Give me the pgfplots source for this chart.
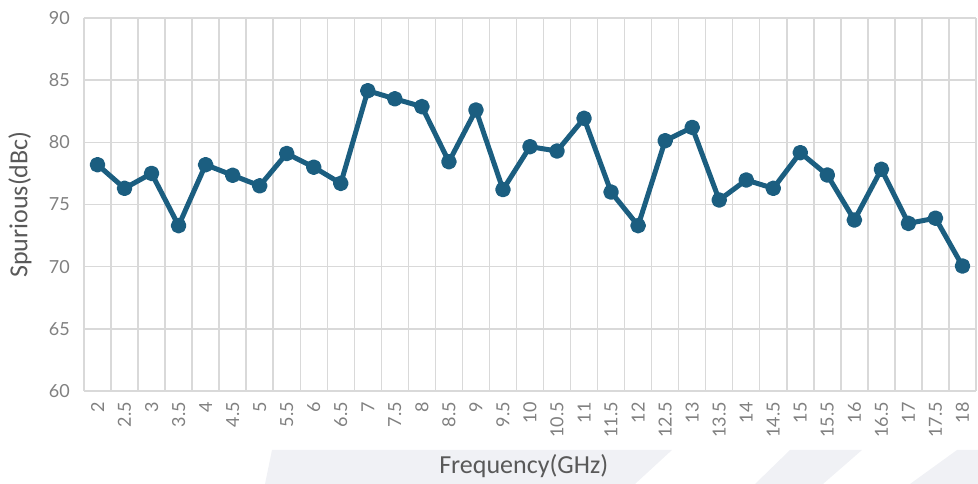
\documentclass[border=0pt]{standalone}
\usepackage{fontspec}
\setmainfont{Carlito}
\newfontfamily\tickfont{Lato}
\usepackage{pgfplots}
\pgfplotsset{compat=1.18}
\usepackage{pgfplotstable}
\definecolor{linec}{HTML}{1B5E80}
\definecolor{gridc}{HTML}{D9D9D9}
\definecolor{tickc}{HTML}{808080}
\definecolor{labc}{HTML}{595959}
\definecolor{decoc}{HTML}{F0F1F5}
\pgfplotstableread{
x y
0 78.2
1 76.3
2 77.5
3 73.3
4 78.2
5 77.35
6 76.5
7 79.1
8 78.0
9 76.7
10 84.15
11 83.5
12 82.87
13 78.44
14 82.6
15 76.2
16 79.65
17 79.3
18 81.93
19 76.0
20 73.3
21 80.13
22 81.2
23 75.36
24 76.97
25 76.3
26 79.17
27 77.37
28 73.75
29 77.83
30 73.48
31 73.9
32 70.05
}\datatable
\begin{document}
\begin{tikzpicture}
\useasboundingbox (-63pt,-69.75pt) rectangle (670.5pt,293.25pt);
\fill[decoc] (141pt,-44.25pt) -- (441pt,-44.25pt) -- (413.25pt,-69.75pt) -- (135.75pt,-69.75pt) -- cycle;
\fill[decoc] (529.5pt,-44.25pt) -- (583.5pt,-44.25pt) -- (554.25pt,-69.75pt) -- (503.25pt,-69.75pt) -- cycle;
\fill[decoc] (654.75pt,-44.25pt) -- (670.5pt,-44.25pt) -- (670.5pt,-69.75pt) -- (619.5pt,-69.75pt) -- cycle;
\begin{axis}[
  at={(0pt,0pt)}, anchor=south west,
  scale only axis, width=669pt, height=279.75pt,
  xmin=-0.5, xmax=32.5, ymin=60, ymax=90,
  xtick={0,...,32},
  xticklabels={2,2.5,3,3.5,4,4.5,5,5.5,6,6.5,7,7.5,8,8.5,9,9.5,10,10.5,11,11.5,12,12.5,13,13.5,14,14.5,15,15.5,16,16.5,17,17.5,18},
  minor xtick={-0.5,0.5,...,32.5},
  ytick={60,65,...,90},
  xminorgrids, ymajorgrids,
  minor grid style={draw=gridc, line width=1.1pt},
  major grid style={draw=gridc, line width=1.1pt},
  axis line style={draw=none},
  major tick length=0pt, minor tick length=0pt,
  /pgf/number format/assume math mode=true,
  tick label style={font=\tickfont\fontsize{13.5}{16}\selectfont, text=tickc, inner sep=0pt},
  xticklabel style={rotate=90, anchor=east},
  xticklabel shift=8.25pt,
  yticklabel shift=10.5pt,
  xlabel={Frequency(GHz)},
  ylabel={Spurious(dBc)},
  every axis x label/.style={at={(axis description cs:0.493,-0.201)}, anchor=center, font=\fontsize{19.5}{23}\selectfont, text=labc},
  every axis y label/.style={at={(axis description cs:-0.0717,0.5)}, rotate=90, anchor=center, font=\fontsize{19.5}{23}\selectfont, text=labc},
  clip=false,
]
\addplot[linec, line width=3.75pt, line join=round, mark=*, mark size=4pt, mark options={solid, fill=linec, draw=none}] table[x=x, y=y] {\datatable};
\end{axis}
\end{tikzpicture}
\end{document}
